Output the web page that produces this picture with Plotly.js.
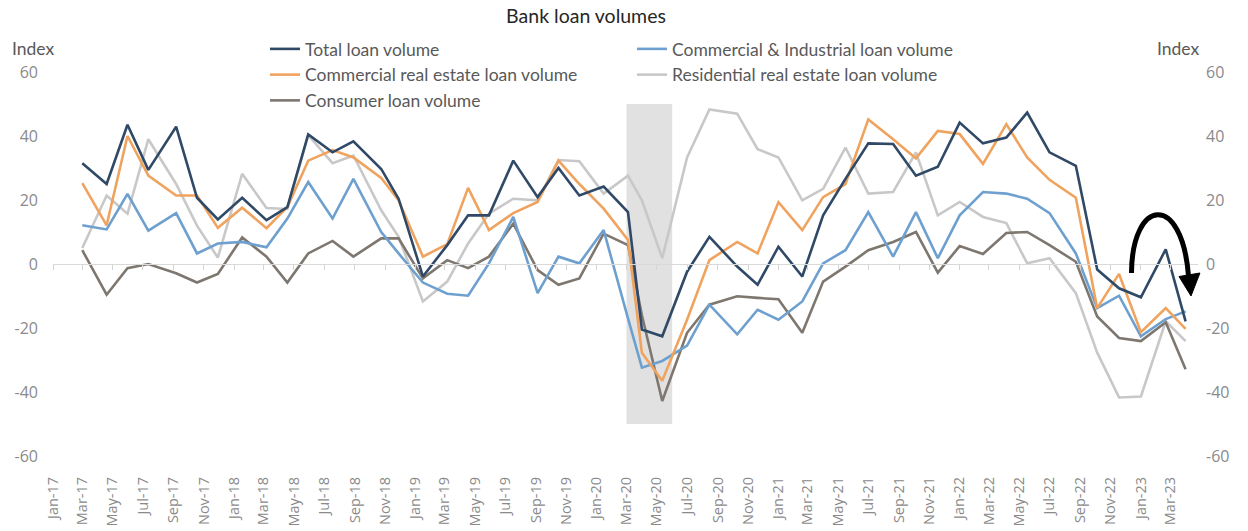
<!DOCTYPE html>
<html>
<head>
<meta charset="utf-8">
<script src="https://cdn.plot.ly/plotly-3.0.1.min.js"></script>
<style>html,body{margin:0;padding:0;background:#fff;}#chart{width:1248px;height:531px;}</style>
</head>
<body>
<div id="chart"></div>
<script>
// Survey dates (read from point positions)
const dates = [
  '2017-03-01','2017-04-19','2017-05-31','2017-07-12','2017-09-06','2017-10-18','2017-11-29',
  '2018-01-17','2018-03-07','2018-04-18','2018-05-30','2018-07-18','2018-08-29','2018-10-24','2018-11-28',
  '2019-01-16','2019-03-06','2019-04-17','2019-05-29','2019-07-17','2019-09-04','2019-10-16','2019-11-27',
  '2020-01-15','2020-03-04','2020-04-01','2020-05-12','2020-07-01','2020-08-15','2020-10-10','2020-11-20',
  '2021-01-01','2021-02-18','2021-04-01','2021-05-16','2021-07-01','2021-08-20','2021-10-05','2021-11-18',
  '2022-01-01','2022-02-17','2022-04-05','2022-05-17','2022-07-01','2022-08-23','2022-10-05','2022-11-18',
  '2023-01-01','2023-02-20','2023-04-01'
];

const totalLoan = [
  31.5, 25.0, 43.5, 29.4, 42.9, 20.7, 13.9, 20.7, 13.7, 17.8,
  40.5, 34.9, 38.3, 29.7, 20.4, -3.9, 5.9, 15.2, 15.2, 32.3,
  20.9, 30.0, 21.4, 24.2, 16.2, -20.5, -22.6, -2.4, 8.5, -0.8,
  -6.5, 5.4, -3.9, 15.2, 26.6, 37.7, 37.5, 27.6, 30.4, 44.2,
  37.7, 39.5, 47.3, 34.9, 30.7, -1.7, -7.6, -10.4, 4.6, -17.9
];

const ciLoan = [
  12.1, 10.8, 21.9, 10.4, 15.9, 3.3, 6.4, 6.9, 5.2, 14.2,
  25.6, 14.2, 26.6, 10.0, 3.3, -5.8, -9.3, -9.9, 0.2, 14.7,
  -9.1, 2.3, 0.2, 10.6, -17.0, -32.4, -30.3, -25.5, -12.7, -22.0,
  -14.3, -17.4, -11.7, 0.2, 4.3, 16.2, 2.3, 16.2, 1.8, 15.2,
  22.5, 22.0, 20.4, 15.9, 3.3, -13.8, -9.9, -22.6, -17.2, -14.8
];

const creLoan = [
  25.3, 12.1, 40.0, 27.6, 21.4, 21.4, 11.3, 17.6, 11.2, 17.8,
  32.3, 35.6, 33.3, 26.9, 19.9, 2.3, 6.2, 23.8, 10.6, 15.9,
  19.4, 32.3, 25.0, 17.3, 7.5, -27.7, -36.5, -17.4, 1.2, 6.9,
  3.3, 19.3, 10.6, 20.9, 25.0, 45.2, 39.0, 33.0, 41.6, 40.6,
  31.3, 43.7, 33.3, 26.3, 20.7, -13.8, -3.1, -21.3, -13.8, -20.3
];

const resLoan = [
  5.0, 21.4, 15.7, 39.0, 25.0, 12.0, 2.0, 28.2, 17.5, 17.2,
  40.3, 31.5, 33.9, 16.8, 8.5, -11.7, -5.5, 6.4, 15.7, 20.4,
  19.9, 32.5, 32.1, 22.0, 27.6, 19.9, 1.8, 33.3, 48.3, 47.0,
  35.9, 33.3, 19.9, 23.5, 36.4, 22.0, 22.5, 34.9, 15.2, 19.4,
  14.7, 12.8, 0.2, 1.8, -9.1, -27.7, -41.7, -41.4, -17.9, -24.1
];

const consLoan = [
  4.3, -9.6, -1.3, 0.0, -2.9, -5.8, -3.1, 8.3, 2.3, -5.8,
  3.3, 7.2, 2.3, 8.0, 8.0, -4.5, 1.2, -1.3, 2.3, 12.6,
  -1.9, -6.5, -4.5, 9.5, 5.9, -16.0, -42.8, -21.5, -12.7, -10.1,
  -10.6, -11.0, -21.5, -5.5, -0.8, 4.3, 6.9, 10.0, -2.7, 5.6,
  3.1, 9.7, 10.0, 5.9, 0.7, -16.4, -23.1, -24.1, -18.2, -32.9
];

const seriesNames = [
  'Total loan volume',
  'Commercial & Industrial loan volume',
  'Commercial real estate loan volume',
  'Residential real estate loan volume',
  'Consumer loan volume'
];

const yTicks = [-60, -40, -20, 0, 20, 40, 60];
const yTickText = ['-60', '-40', '-20', '0', '20', '40', '60'];
const recession = ['2020-03-01', '2020-06-01'];
const xRange = ['2017-01-01', '2023-04-26'];

const LEG_FONT = 'Lato, "Noto Sans", sans-serif';
const TICK_FONT = '"Open Sans", "Noto Sans", sans-serif';

function mk(name, y, color, legend, rank, xa, ya) {
  return {
    type: 'scatter', mode: 'lines', x: dates, y: y, name: name,
    line: {color: color, width: 2.6},
    legend: legend, legendrank: rank, hoverinfo: 'x+y',
    xaxis: xa, yaxis: ya
  };
}

const data = [
  mk(seriesNames[3], resLoan, '#c8c8c8', 'legend2', 2, 'x', 'y'),
  mk(seriesNames[4], consLoan, '#7e776f', 'legend', 3, 'x', 'y'),
  mk(seriesNames[1], ciLoan, '#6ea0cf', 'legend2', 1, 'x', 'y'),
  mk(seriesNames[2], creLoan, '#f0a35f', 'legend', 2, 'x', 'y'),
  // drawn on the overlay axes (identical ranges) so the zero-line axis and right axis render
  mk(seriesNames[0], totalLoan, '#2f4966', 'legend', 1, 'x2', 'y2')
];

// paper coordinate helpers for the hand-drawn arrow (plot area 53..1198 x 72..456)
function px(v) { return ((v - 53) / 1145).toFixed(4); }
function py(v) { return ((456 - v) / 384).toFixed(4); }
const arc = 'M ' + px(1131.5) + ',' + py(273) +
  ' C ' + px(1132) + ',' + py(198) + ' ' + px(1182) + ',' + py(192) + ' ' + px(1188.5) + ',' + py(276);
const head = 'M ' + px(1179) + ',' + py(276.5) + ' L ' + px(1200) + ',' + py(273) +
  ' L ' + px(1191) + ',' + py(296) + ' Z';

const layout = {
  width: 1248, height: 531,
  margin: {l: 53, r: 50, t: 72, b: 75, autoexpand: false},
  paper_bgcolor: '#ffffff', plot_bgcolor: '#ffffff',
  showlegend: true,
  title: {
    text: 'Bank loan volumes',
    font: {family: LEG_FONT, size: 19.5, color: '#262626'},
    x: 586 / 1248, xanchor: 'center', xref: 'container',
    y: 1 - 16 / 531, yanchor: 'middle', yref: 'container'
  },
  xaxis: {
    type: 'date', range: xRange,
    tickmode: 'linear', tick0: '2017-01-01', dtick: 'M2', tickformat: '%b-%y',
    tickangle: -90, ticks: '', ticklabelstandoff: 17,
    tickfont: {family: TICK_FONT, size: 14.5, color: '#8a8a8a'},
    showgrid: false, zeroline: false, showline: false
  },
  xaxis2: {
    type: 'date', range: xRange, overlaying: 'x', anchor: 'free', position: 0.5,
    tickmode: 'linear', tick0: '2017-01-01', dtick: 'M2',
    ticks: 'outside', ticklen: 5, tickwidth: 1, tickcolor: '#d4d4d4',
    showticklabels: false, showgrid: false, zeroline: false,
    showline: true, linecolor: '#d9d9d9', linewidth: 1
  },
  yaxis: {
    range: [-60, 60], tickmode: 'array', tickvals: yTicks, ticktext: yTickText,
    tickfont: {family: TICK_FONT, size: 16, color: '#8a8a8a'},
    ticks: '', ticklabelstandoff: 14,
    showgrid: false, zeroline: false, showline: false
  },
  yaxis2: {
    range: [-60, 60], tickmode: 'array', tickvals: yTicks, ticktext: yTickText,
    overlaying: 'y', side: 'right', anchor: 'x2',
    tickfont: {family: TICK_FONT, size: 16, color: '#8a8a8a'},
    ticks: '', ticklabelstandoff: 7,
    showgrid: false, zeroline: false, showline: false
  },
  legend: {
    xref: 'container', yref: 'container', x: 265 / 1248, y: 1 - 31 / 531,
    xanchor: 'left', yanchor: 'top', orientation: 'v',
    font: {family: LEG_FONT, size: 17.5, color: '#595959'},
    bgcolor: 'rgba(0,0,0,0)', traceorder: 'normal'
  },
  legend2: {
    xref: 'container', yref: 'container', x: 632 / 1248, y: 1 - 31 / 531,
    xanchor: 'left', yanchor: 'top', orientation: 'v',
    font: {family: LEG_FONT, size: 17.5, color: '#595959'},
    bgcolor: 'rgba(0,0,0,0)', traceorder: 'normal'
  },
  shapes: [
    {type: 'rect', xref: 'x', yref: 'y', x0: recession[0], x1: recession[1], y0: -50, y1: 50,
     fillcolor: '#e1e1e1', line: {width: 0}, layer: 'below'},
    {type: 'path', xref: 'paper', yref: 'paper', path: arc,
     line: {color: '#000000', width: 5}, layer: 'above'},
    {type: 'path', xref: 'paper', yref: 'paper', path: head,
     fillcolor: '#000000', line: {color: '#000000', width: 1}, layer: 'above'}
  ],
  annotations: [
    {text: 'Index', xref: 'paper', yref: 'paper', x: (10 - 53) / 1145, y: (456 - 48) / 384,
     xanchor: 'left', yanchor: 'middle', showarrow: false,
     font: {family: LEG_FONT, size: 17.5, color: '#595959'}},
    {text: 'Index', xref: 'paper', yref: 'paper', x: (1201 - 53) / 1145, y: (456 - 48) / 384,
     xanchor: 'right', yanchor: 'middle', showarrow: false,
     font: {family: LEG_FONT, size: 17.5, color: '#595959'}}
  ]
};

Plotly.newPlot('chart', data, layout, {staticPlot: true, displayModeBar: false});
</script>
</body>
</html>
